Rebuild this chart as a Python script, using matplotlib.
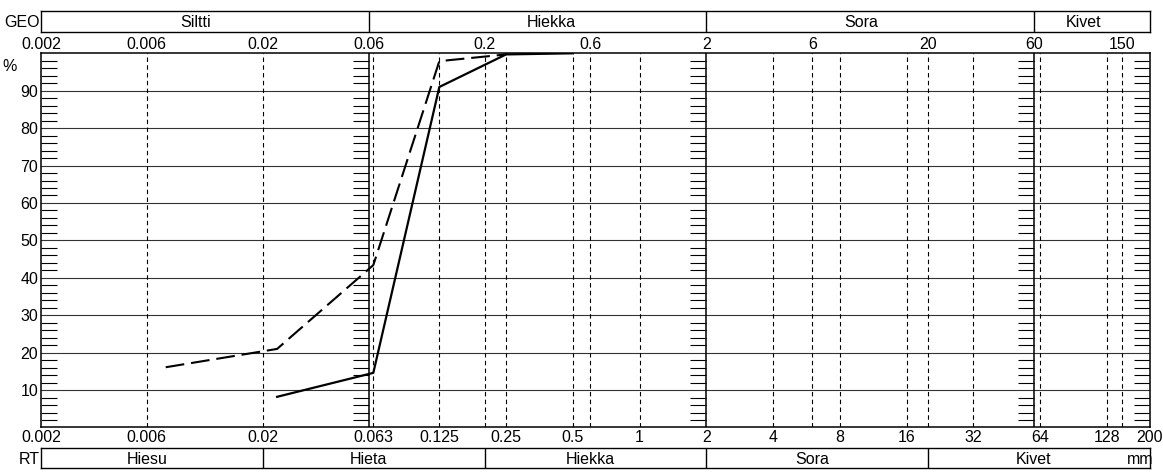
import numpy as np
import matplotlib.pyplot as plt

plt.rcParams['font.family'] = ['Liberation Sans', 'DejaVu Sans']

# sample curves (grain size mm, % passing)
solid_d = [0.0232, 0.063, 0.125, 0.25, 0.5]
solid_p = [8.2, 14.6, 91.0, 99.7, 100.0]
dashed_d = [0.0073, 0.0232, 0.063, 0.125, 0.25]
dashed_p = [16.1, 21.0, 43.4, 97.9, 99.7]

# axis labels
top_ticks = [0.002, 0.006, 0.02, 0.06, 0.2, 0.6, 2, 6, 20, 60, 150]
top_labels = ['0.002', '0.006', '0.02', '0.06', '0.2', '0.6', '2', '6', '20', '60', '150']
bottom_ticks = [0.002, 0.006, 0.02, 0.063, 0.125, 0.25, 0.5, 1, 2, 4, 8, 16, 32, 64, 128, 200]
bottom_labels = ['0.002', '0.006', '0.02', '0.063', '0.125', '0.25', '0.5', '1', '2', '4', '8', '16', '32', '64', '128', '200']
pct_ticks = [10, 20, 30, 40, 50, 60, 70, 80, 90]

# class boundaries
solid_lines = [0.06, 2, 60]
dashed_lines = [0.006, 0.02, 0.063, 0.125, 0.2, 0.25, 0.5, 0.6, 1, 4, 6, 8, 16, 20, 32, 64, 128, 150]
tick_columns = [0.002, 0.06, 2, 60, 200]

geo_bounds = [0.06, 2, 60]
geo_names = ['Siltti', 'Hiekka', 'Sora', 'Kivet']
geo_pos = [0.01, 0.4, 10, 100]
rt_bounds = [0.02, 0.2, 2, 20]
rt_names = ['Hiesu', 'Hieta', 'Hiekka', 'Sora', 'Kivet']
rt_pos = [0.006, 0.06, 0.6, 6, 60]

xmin, xmax = 0.002, 200
fs = 11.5

fig = plt.figure(figsize=(11.63, 4.72), dpi=100)
ax = fig.add_axes([0.03525, 0.09428, 0.95357, 0.7928])
ax.set_xscale('log')
ax.set_xlim(xmin, xmax)
ax.set_ylim(0, 100)

for p in pct_ticks:
    ax.axhline(p, color='#333333', lw=0.8, zorder=1)
for d in dashed_lines:
    ax.axvline(d, color='black', lw=0.8, ls=(0, (4, 3)), zorder=1)
for d in solid_lines:
    ax.axvline(d, color='black', lw=1.1, zorder=2)

# small 2% ticks along boundary columns
minor = [p for p in range(2, 100, 2) if p % 10 != 0]
tlen = 10 ** 0.072
for d in tick_columns:
    if d == xmin:
        ax.hlines(minor, d, d * tlen, color='black', lw=0.8, zorder=2)
    else:
        ax.hlines(minor, d / tlen, d, color='black', lw=0.8, zorder=2)

ax.plot(solid_d, solid_p, color='black', lw=1.6, zorder=3)
ax.plot(dashed_d, dashed_p, color='black', lw=1.5, ls=(0, (9, 3.3)), zorder=3)

ax.set_xticks(bottom_ticks)
ax.set_xticklabels(bottom_labels, fontsize=fs)
ax.xaxis.set_minor_locator(plt.NullLocator())
ax.set_yticks(pct_ticks)
ax.set_yticklabels([str(p) for p in pct_ticks], fontsize=fs)
ax.tick_params(length=0, pad=2)
ax.text(-0.022, 0.965, '%', transform=ax.transAxes, fontsize=fs, ha='right', va='center')

sec = ax.secondary_xaxis('top')
sec.set_xticks(top_ticks)
sec.set_xticklabels(top_labels, fontsize=fs)
sec.xaxis.set_minor_locator(plt.NullLocator())
sec.tick_params(length=0, pad=1)
sec.spines['top'].set_visible(False)

for s in ax.spines.values():
    s.set_linewidth(1.1)

# GEO header
hx = fig.add_axes([0.03525, 0.9322, 0.95357, 0.04449])
hx.set_xscale('log')
hx.set_xlim(xmin, xmax)
hx.set_ylim(0, 1)
hx.set_xticks([])
hx.set_yticks([])
hx.xaxis.set_minor_locator(plt.NullLocator())
for d in geo_bounds:
    hx.axvline(d, color='black', lw=1.0)
for name, x in zip(geo_names, geo_pos):
    hx.text(x, 0.45, name, ha='center', va='center', fontsize=fs)
hx.text(-0.001, 0.45, 'GEO', transform=hx.transAxes, ha='right', va='center', fontsize=fs)
for s in hx.spines.values():
    s.set_linewidth(1.0)

# RT footer
fx = fig.add_axes([0.03525, 0.00742, 0.95357, 0.04237])
fx.set_xscale('log')
fx.set_xlim(xmin, xmax)
fx.set_ylim(0, 1)
fx.set_xticks([])
fx.set_yticks([])
fx.xaxis.set_minor_locator(plt.NullLocator())
for d in rt_bounds:
    fx.axvline(d, color='black', lw=1.0)
for name, x in zip(rt_names, rt_pos):
    fx.text(x, 0.45, name, ha='center', va='center', fontsize=fs)
fx.text(180, 0.45, 'mm', ha='center', va='center', fontsize=fs)
fx.text(-0.001, 0.45, 'RT', transform=fx.transAxes, ha='right', va='center', fontsize=fs)
for s in fx.spines.values():
    s.set_linewidth(1.0)

fig.savefig('out.png', dpi=100)
